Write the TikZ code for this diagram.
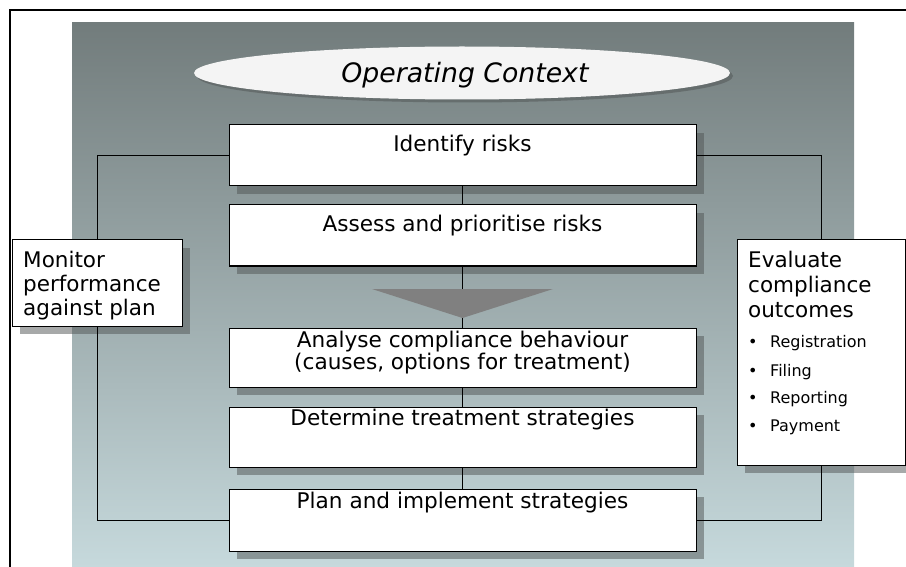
\documentclass[tikz,border=0pt]{standalone}
\usepackage{fontspec}
\setmainfont{DejaVu Sans}
\usetikzlibrary{shadows,shapes.geometric}
\definecolor{bgtop}{RGB}{114,124,124}
\definecolor{bgbot}{RGB}{198,217,220}
\definecolor{shadowgray}{RGB}{80,84,84}
\definecolor{ellfill}{RGB}{244,244,244}
\definecolor{trigray}{RGB}{128,128,128}
\begin{document}
\begin{tikzpicture}[x=1pt,y=-1pt,
  stepbox/.style={draw=black, line width=1pt, fill=white, rectangle, inner sep=0pt,
    general shadow={shadow xshift=8pt, shadow yshift=-8pt, fill=shadowgray, fill opacity=0.5}},
  txt/.style={font=\fontsize{21.6}{24}\selectfont, inner sep=0pt, anchor=base},
  ltxt/.style={font=\fontsize{21.5}{24}\selectfont, inner sep=0pt, anchor=base west},
  small/.style={font=\fontsize{16}{19}\selectfont, inner sep=0pt, anchor=base west},
  conn/.style={draw=black, line width=0.9pt}]
\useasboundingbox (0,0) rectangle (906,567);
% background
\fill[top color=bgtop, bottom color=bgbot] (72,23) rectangle (854,567);
% frame
\draw[line width=2pt] (10,568) -- (10,10) -- (907,10);
% operating context
\node[ellipse, fill=ellfill, minimum width=536pt, minimum height=53pt, inner sep=0pt,
  general shadow={shadow xshift=3pt, shadow yshift=-3pt, fill=shadowgray, fill opacity=0.5}]
  (ctx) at (462,73) {};
\node[font=\fontsize{26.7}{30}\selectfont\itshape, inner sep=0pt, anchor=base] (ctxt) at (465,83) {Operating Context};
% boxes
\node[stepbox, minimum width=467pt, minimum height=61pt] (b1) at (462.5,155.5) {};
\node[stepbox, minimum width=467pt, minimum height=61pt] (b2) at (462.5,235.5) {};
\node[stepbox, minimum width=467pt, minimum height=59pt] (b3) at (462.5,357.5) {};
\node[stepbox, minimum width=467pt, minimum height=60pt] (b4) at (462.5,437) {};
\node[stepbox, minimum width=467pt, minimum height=62pt] (b5) at (462.5,520) {};
\node[stepbox, minimum width=170pt, minimum height=86pt] (mon) at (97,283) {};
\node[stepbox, minimum width=168pt, minimum height=225pt] (eval) at (821,352.5) {};
% texts
\node[txt] (t1) at (462.5,152) {Identify risks};
\node[txt] (t2) at (462.5,232) {Assess and prioritise risks};
\node[txt] (t3a) at (462.5,347) {Analyse compliance behaviour};
\node[txt] (t3b) at (462.5,369) {(causes, options for treatment)};
\node[txt] (t4) at (462.5,425) {Determine treatment strategies};
\node[txt] (t5) at (462.5,508) {Plan and implement strategies};
\node[ltxt] (m1) at (23,267) {Monitor};
\node[ltxt] (m2) at (23,291) {performance};
\node[ltxt] (m3) at (23,315) {against plan};
\node[ltxt] (e1) at (748,267) {Evaluate};
\node[ltxt] (e2) at (748,292) {compliance};
\node[ltxt] (e3) at (748,317) {outcomes};
\node[small] (p1) at (748,347) {•};
\node[small] (q1) at (770,347) {Registration};
\node[small] (p2) at (748,376) {•};
\node[small] (q2) at (770,376) {Filing};
\node[small] (p3) at (748,403) {•};
\node[small] (q3) at (770,403) {Reporting};
\node[small] (p4) at (748,431) {•};
\node[small] (q4) at (770,431) {Payment};
% connectors
\draw[conn] (b1.south) -- (b2.north);
\draw[conn] (b2.south) -- (b3.north);
\draw[conn] (b3.south) -- (b4.north);
\draw[conn] (b4.south) -- (b5.north);
\draw[conn] (b1.west) -| (mon.north);
\draw[conn] (mon.south) |- (b5.west);
\draw[conn] (b1.east) -| (eval.north);
\draw[conn] (eval.south) |- (b5.east);
% arrow
\fill[trigray] (372,289) -- (553,289) -- (462.5,318) -- cycle;
\end{tikzpicture}
\end{document}
